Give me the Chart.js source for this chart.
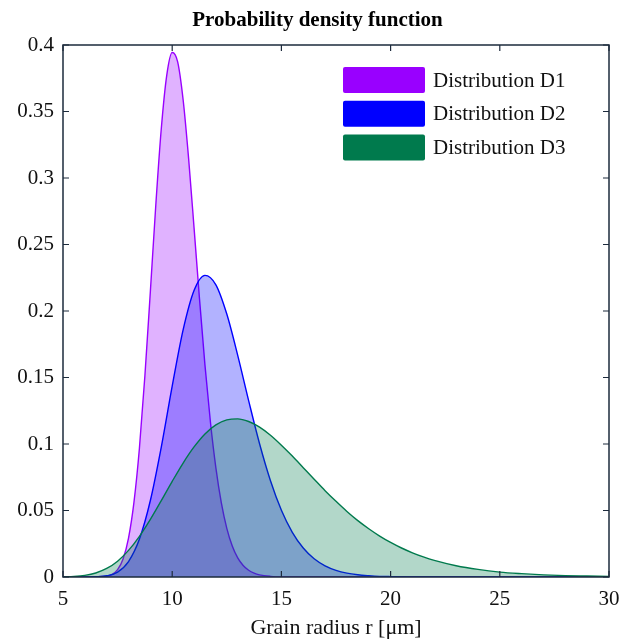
<!DOCTYPE html>
<html><head><meta charset="utf-8">
<script src="https://cdn.jsdelivr.net/npm/chart.js@4.4.1/dist/chart.umd.min.js"></script>
<style>html,body{margin:0;padding:0;background:#fff;}</style>
</head><body>
<canvas id="c" width="635" height="641"></canvas>
<script>
const chartTitle = 'Probability density function';
const xAxisTitle = 'Grain radius r [\u03bcm]';
const seriesNames = ['Distribution D1', 'Distribution D2', 'Distribution D3'];
const xTickValues = [5, 10, 15, 20, 25, 30];
const xTickLabels = ['5', '10', '15', '20', '25', '30'];
const yTickValues = [0, 0.05, 0.1, 0.15, 0.2, 0.25, 0.3, 0.35, 0.4];
const yTickLabels = ['0', '0.05', '0.1', '0.15', '0.2', '0.25', '0.3', '0.35', '0.4'];

const d1X = [5, 6, 7, 7.25, 7.5, 7.75, 8, 8.25, 8.5, 8.75, 9, 9.25, 9.5, 9.75, 10, 10.25, 10.5, 10.75, 11, 11.25, 11.5, 11.75, 12, 12.25, 12.5, 12.75, 13, 13.25, 13.5, 13.75, 14, 14.5, 15, 30];
const d1Y = [0, 0, 0.0006, 0.0019, 0.0055, 0.0135, 0.0293, 0.0563, 0.097, 0.1513, 0.2147, 0.2799, 0.337, 0.3772, 0.3944, 0.3873, 0.3588, 0.3149, 0.2627, 0.2091, 0.1593, 0.1165, 0.082, 0.0557, 0.0366, 0.0233, 0.0144, 0.0087, 0.0051, 0.0029, 0.0016, 0.0005, 0.0001, 0];

const d2X = [5, 6, 6.5, 7, 7.5, 8, 8.5, 9, 9.5, 10, 10.5, 11, 11.5, 12, 12.5, 13, 13.5, 14, 14.5, 15, 15.5, 16, 16.5, 17, 17.5, 18, 18.5, 19, 19.5, 20, 21, 22, 30];
const d2Y = [0, 0, 0.0002, 0.0009, 0.0037, 0.0116, 0.0285, 0.0575, 0.0977, 0.1435, 0.1858, 0.2154, 0.2268, 0.2197, 0.1977, 0.1666, 0.1326, 0.1002, 0.0724, 0.0502, 0.0336, 0.0218, 0.0137, 0.0084, 0.005, 0.0029, 0.0017, 0.001, 0.0005, 0.0003, 0.0001, 0, 0];

const d3X = [5, 5.5, 6, 6.5, 7, 7.5, 8, 8.5, 9, 9.5, 10, 10.5, 11, 11.5, 12, 12.5, 13, 13.5, 14, 14.5, 15, 15.5, 16, 16.5, 17, 17.5, 18, 18.5, 19, 19.5, 20, 20.5, 21, 21.5, 22, 23, 24, 25, 26, 27, 28, 29, 30];
const d3Y = [0.0001, 0.0004, 0.0012, 0.003, 0.0064, 0.0119, 0.02, 0.0306, 0.0433, 0.0574, 0.0719, 0.0857, 0.0978, 0.1076, 0.1144, 0.1181, 0.1189, 0.1169, 0.1127, 0.1066, 0.0991, 0.0909, 0.0822, 0.0735, 0.0649, 0.0569, 0.0493, 0.0424, 0.0363, 0.0308, 0.026, 0.0218, 0.0182, 0.0151, 0.0125, 0.0085, 0.0057, 0.0037, 0.0025, 0.0016, 0.001, 0.0007, 0.0004];

const lineColors = ['rgb(153,0,255)', 'rgb(0,0,255)', 'rgb(0,122,77)'];
const fillColors = ['rgba(153,0,255,0.3)', 'rgba(0,0,255,0.3)', 'rgba(0,122,77,0.3)'];

const toPts = (xs, ys) => xs.map((x, i) => ({x: x, y: ys[i]}));
const AXIS_COLOR = '#1d2b3d';
const SERIF = '"Liberation Serif", "Times New Roman", serif';

const framePlugin = {
  id: 'frame',
  afterDraw(chart) {
    const ctx = chart.ctx, ca = chart.chartArea;
    const xs = chart.scales.x, ys = chart.scales.y;
    ctx.save();
    ctx.strokeStyle = AXIS_COLOR;
    ctx.lineWidth = 1.5;
    ctx.strokeRect(ca.left, ca.top, ca.right - ca.left, ca.bottom - ca.top);
    ctx.lineWidth = 1.2;
    const L = 6;
    ctx.beginPath();
    xTickValues.forEach(v => {
      const p = xs.getPixelForValue(v);
      ctx.moveTo(p, ca.bottom); ctx.lineTo(p, ca.bottom - L);
      ctx.moveTo(p, ca.top); ctx.lineTo(p, ca.top + L);
    });
    yTickValues.forEach(v => {
      const p = ys.getPixelForValue(v);
      ctx.moveTo(ca.left, p); ctx.lineTo(ca.left + L, p);
      ctx.moveTo(ca.right, p); ctx.lineTo(ca.right - L, p);
    });
    ctx.stroke();
    ctx.restore();
  }
};

const legendPlugin = {
  id: 'insideLegend',
  afterDatasetsDraw(chart) {
    const ctx = chart.ctx, ca = chart.chartArea;
    chart.data.datasets.forEach((ds, i) => {
      const bx = ca.left + 280, by = ca.top + 22 + i * 33.7, bw = 82, bh = 26;
      ctx.save();
      ctx.fillStyle = ds.borderColor;
      ctx.beginPath();
      if (ctx.roundRect) ctx.roundRect(bx, by, bw, bh, 2); else ctx.rect(bx, by, bw, bh);
      ctx.fill();
      ctx.fillStyle = '#111';
      ctx.font = '21px ' + SERIF;
      ctx.textBaseline = 'middle';
      ctx.textAlign = 'left';
      ctx.fillText(ds.label, bx + bw + 8, by + bh / 2 + 1);
      ctx.restore();
    });
  }
};

new Chart(document.getElementById('c'), {
  type: 'line',
  data: {
    datasets: [
      {label: seriesNames[0], data: toPts(d1X, d1Y), borderColor: lineColors[0], backgroundColor: fillColors[0], fill: 'origin', order: 3},
      {label: seriesNames[1], data: toPts(d2X, d2Y), borderColor: lineColors[1], backgroundColor: fillColors[1], fill: 'origin', order: 2},
      {label: seriesNames[2], data: toPts(d3X, d3Y), borderColor: lineColors[2], backgroundColor: fillColors[2], fill: 'origin', order: 1}
    ]
  },
  options: {
    responsive: false,
    animation: false,
    devicePixelRatio: 1,
    layout: {padding: {left: 0, right: 0, top: 0, bottom: 0}},
    elements: {
      point: {radius: 0, hoverRadius: 0},
      line: {borderWidth: 1.4, cubicInterpolationMode: 'monotone'}
    },
    plugins: {
      legend: {display: false},
      tooltip: {enabled: false},
      title: {
        display: true, text: chartTitle, color: '#000',
        font: {family: SERIF, size: 21, weight: 'bold', lineHeight: 1.2},
        padding: {top: 8, bottom: 11.8}
      }
    },
    scales: {
      x: {
        type: 'linear', min: 5, max: 30,
        afterBuildTicks: s => { s.ticks = xTickValues.map(v => ({value: v})); },
        afterFit: s => { s.height = 64; },
        grid: {display: false, drawTicks: false},
        border: {display: false},
        ticks: {
          color: '#111', padding: 10, maxRotation: 0, autoSkip: false,
          font: {family: SERIF, size: 21},
          callback: (v) => xTickLabels[xTickValues.indexOf(v)]
        },
        title: {display: true, text: xAxisTitle, color: '#111', font: {family: SERIF, size: 22}, padding: {top: 0, bottom: 0}}
      },
      y: {
        type: 'linear', min: 0, max: 0.4,
        afterBuildTicks: s => { s.ticks = yTickValues.map(v => ({value: v})); },
        afterFit: s => { s.width = 63; },
        grid: {display: false, drawTicks: false},
        border: {display: false},
        ticks: {
          color: '#111', padding: 9, autoSkip: false,
          font: {family: SERIF, size: 21},
          callback: (v) => { const i = yTickValues.findIndex(t => Math.abs(t - v) < 1e-9); return i >= 0 ? yTickLabels[i] : ''; }
        }
      },
      yRight: {
        type: 'linear', position: 'right', min: 0, max: 0.4,
        afterFit: s => { s.width = 26; },
        grid: {display: false, drawTicks: false},
        border: {display: false},
        ticks: {display: false}
      }
    }
  },
  plugins: [framePlugin, legendPlugin]
});
</script>
</body></html>
